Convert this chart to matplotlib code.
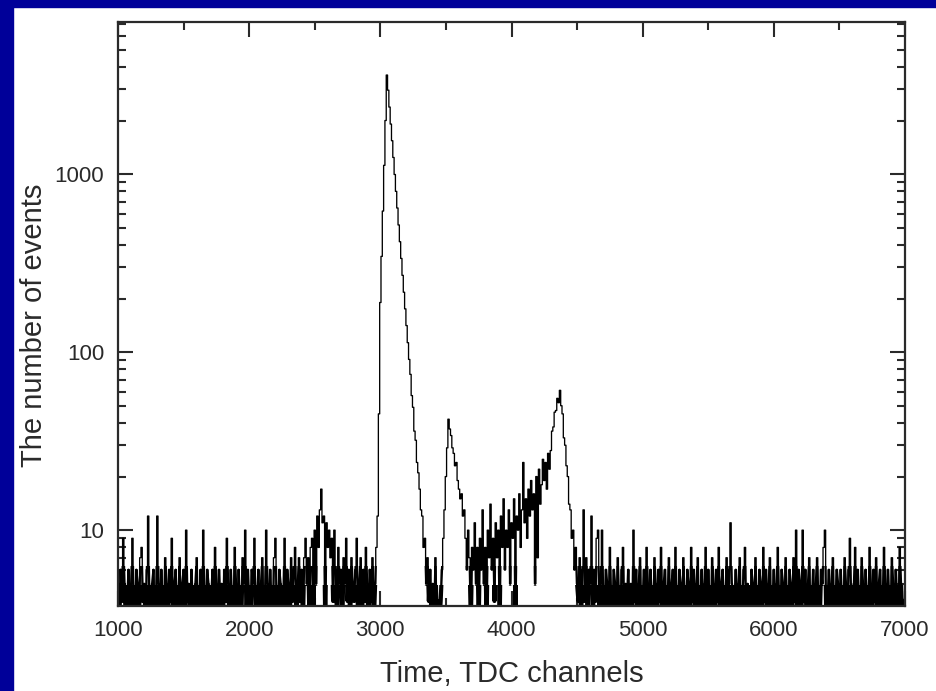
import numpy as np
import matplotlib.pyplot as plt
from matplotlib import ticker, transforms
from matplotlib.patches import Rectangle

plt.rcParams['font.family'] = ['Liberation Sans', 'DejaVu Sans']

# TDC spectrum, counts per 10-channel step
BIN = 10

bg_left_start = 1000
bg_left = [5, 3, 6, 4, 9, 5, 3, 4, 6, 3, 5, 9, 4, 3, 6, 5, 3, 7, 8, 4,
           5, 3, 6, 12, 4, 3, 5, 6, 3, 4, 12, 5, 3, 6, 4, 3, 7, 5, 3, 6,
           4, 9, 3, 5, 6, 3, 4, 7, 3, 5, 6, 3, 10, 4, 5, 3, 6, 4, 3, 5,
           7, 3, 4, 6, 3, 10, 4, 3, 6, 5, 3, 4, 6, 3, 8, 5, 3, 6, 4, 5,
           3, 6, 4, 9, 5, 3, 6, 4, 3, 8, 5, 3, 6, 4, 3, 7, 5, 10, 3, 6,
           4, 3, 6, 5, 9, 3, 4, 6, 3, 5, 7, 3, 4, 10, 5, 3, 6, 4, 3, 7,
           9, 4, 3, 6, 5, 3, 4, 9, 3, 6, 5, 3, 7, 4, 6, 8, 3, 5, 7, 4]

bump_start = 2400
bump = [6, 3, 7, 9, 5, 7, 3, 8, 9, 3, 10, 5, 12, 8, 13, 17, 11, 12, 3, 11,
        8, 10, 7, 9, 4, 10, 6, 3, 8, 5, 6, 3, 7, 5, 9, 4, 6, 3, 7, 5,
        4, 6, 9, 3, 5, 7, 3, 6, 4, 8, 5, 3, 6, 4, 7, 3, 5, 8]

main_peak_start = 2980
main_peak = [12, 45, 190, 345, 620, 1120, 2000, 3600, 2960, 2380,
             1910, 1540, 1240, 995, 800, 645, 518, 417, 336, 270,
             217, 175, 141, 113, 91, 75, 57, 49, 36, 32,
             24, 21, 17, 13, 12, 8, 9, 5, 7, 4, 6, 3]

peak2_start = 3400
peak2 = [5, 3, 7, 3, 4, 3, 4, 6, 9, 13, 20, 29, 42, 37, 34, 29, 27, 23, 24, 19,
         17, 15, 16, 12, 13]

broad_start = 3650
broad = [9, 6, 10, 7, 3, 8, 6, 11, 5, 8, 3, 9, 6, 13, 5, 8, 3, 10, 7, 14,
         6, 9, 4, 11, 7, 10, 3, 12, 8, 15, 6, 10, 8, 13, 5, 11, 9, 15, 3, 12,
         10, 16, 8, 13, 24, 11, 15, 9, 17, 12, 19, 13, 16, 5, 20, 7, 22, 14, 18, 25,
         19, 24, 17, 27, 22]

peak3_start = 4300
peak3 = [28, 36, 38, 46, 47, 55, 52, 61, 50, 45, 33, 30, 23, 20, 14, 13, 9, 10, 6, 8, 5]

bg_right_start = 4510
bg_right = [4, 7, 3, 6, 13, 4, 7, 3, 6, 5, 12, 3, 6, 4, 9, 10, 3, 5, 10, 4,
            3, 6, 5, 3, 8, 4, 3, 6, 5, 3, 7, 4, 3, 6, 8, 3, 5, 4, 6, 3,
            5, 3, 10, 4, 6, 3, 5, 7, 3, 4, 6, 3, 8, 5, 3, 6, 4, 3, 7, 5,
            3, 6, 4, 8, 3, 5, 6, 3, 4, 7, 3, 5, 6, 3, 8, 4, 3, 6, 5, 3,
            7, 4, 3, 6, 5, 3, 8, 4, 6, 3, 5, 7, 3, 4, 6, 3, 5, 8, 3, 6,
            4, 3, 7, 5, 3, 6, 4, 8, 3, 5, 6, 3, 4, 7, 3, 6, 11, 5, 3, 4,
            6, 3, 5, 7, 3, 4, 6, 8, 3, 5, 4, 3, 6, 5, 3, 7, 4, 3, 6, 5,
            3, 8, 4, 6, 3, 5, 7, 3, 4, 6, 3, 5, 8, 4, 3, 6, 5, 3, 7, 4,
            3, 6, 5, 3, 7, 4, 10, 3, 6, 5, 3, 10, 4, 6, 3, 5, 7, 3, 4, 6,
            3, 5, 7, 4, 3, 6, 5, 8, 10, 3, 4, 6, 3, 5, 7, 3, 4, 6, 5, 3,
            6, 4, 3, 7, 5, 3, 6, 9, 4, 3, 5, 8, 3, 6, 4, 3, 7, 5, 3, 6,
            4, 3, 8, 5, 3, 6, 4, 7, 3, 5, 6, 3, 4, 8, 5, 3, 6, 4, 3, 7,
            5, 3, 6, 4, 3, 8, 5, 3, 4]

segments = [(bg_left_start, bg_left), (bump_start, bump),
            (main_peak_start, main_peak), (peak2_start, peak2),
            (broad_start, broad), (peak3_start, peak3),
            (bg_right_start, bg_right)]

chan = np.concatenate([s + BIN * np.arange(len(v)) for s, v in segments])
counts = np.concatenate([np.array(v, dtype=float) for s, v in segments])

BLUE = '#000099'
INK = '#2a2a2a'
Y_MIN, Y_MAX = 3.75, 7150

fig = plt.figure(figsize=(9.37, 6.91), dpi=100)
fig.patch.set_facecolor('white')
fig.patches.append(Rectangle((0, 0), 13 / 937, 1, transform=fig.transFigure,
                             color=BLUE, zorder=0))
fig.patches.append(Rectangle((0, 1 - 7 / 691), 1, 7 / 691, transform=fig.transFigure,
                             color=BLUE, zorder=0))

ax = fig.add_axes([118 / 937, 1 - 606 / 691, (905 - 118) / 937, (606 - 22) / 691])
ax.set_yscale('log')
ax.set_xlim(1000, 7000)
ax.set_ylim(Y_MIN, Y_MAX)

# channel-to-channel jitter: solid near the floor, thinning out upwards
trans = transforms.blended_transform_factory(ax.transAxes, ax.transData)
for lw, top in [(3.0, 4.9), (1.6, 6.3)]:
    ln, = ax.plot(chan, counts, color='black', lw=lw)
    ln.set_clip_path(Rectangle((0, Y_MIN), 1, top - Y_MIN, transform=trans))

ax.plot(chan, counts, color='black', lw=0.95, drawstyle='steps-mid')

ax.xaxis.set_major_locator(ticker.MultipleLocator(1000))
ax.xaxis.set_minor_locator(ticker.MultipleLocator(500))
ax.yaxis.set_major_locator(ticker.FixedLocator([10, 100, 1000]))
ax.yaxis.set_minor_locator(ticker.LogLocator(base=10, subs=np.arange(2, 10)))
ax.yaxis.set_major_formatter(ticker.FuncFormatter(lambda v, p: f"{v:g}"))
ax.yaxis.set_minor_formatter(ticker.NullFormatter())

ax.tick_params(which='both', direction='in', top=True, right=True,
               color=INK, width=1.5, labelcolor=INK, labelsize=16)
ax.tick_params(which='major', length=11, pad=10)
ax.tick_params(which='minor', length=5.5)
for sp in ax.spines.values():
    sp.set_color(INK)
    sp.set_linewidth(1.6)
    sp.set_zorder(3)

ax.set_xlabel("Time, TDC channels", fontsize=21, color=INK, labelpad=14)
ax.set_ylabel("The number of events", fontsize=21, color=INK)
ax.yaxis.set_label_coords(-0.089, 0.48)

fig.savefig('out.png', dpi=100)
